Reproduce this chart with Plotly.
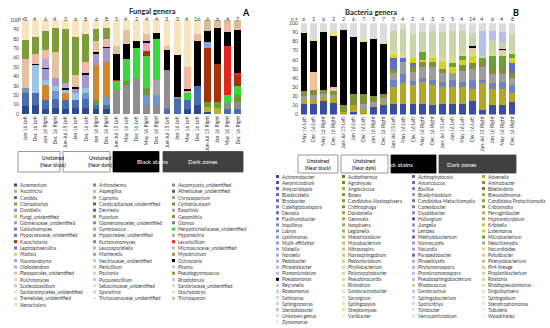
import plotly.graph_objects as go

W, H = 550, 328
FONT = "Lato"

# ---------------- categories ----------------
fungal_labels = ["Jun 16 Left", "Dec 16 Left", "Jun 16 Right", "Dec 16 Right",
                 "Jun-Jul 15 Left", "Jan 16 Left", "Dec 16 Left", "Jan 16 Right", "Dec 16 Right",
                 "Jun-Jul 15 Left", "May 16 Left", "Dec 16 Left", "May 16 Right", "Dec 16 Right",
                 "Jun-Jul 15 Left", "Jan 16 Left", "May 16 Left", "Dec 16 Left",
                 "Jun-Jul 15 Right", "Jan 16 Right", "May 16 Right", "Dec 16 Right"]
fungal_n = [3, 4, 6, 4, 2, 6, 8, 6, 8, 5, 4, 2, 4, 4, 3, 5, 4, 16, 6, 6, 4, 7]

bact_labels = ["May 16 Left", "Dec 16 Left", "May 16 Right", "Dec 16 Right",
               "Jun-Jul 15 Left", "Jan 16 Left", "Dec 16 Left", "Jan 16 Right", "Dec 16 Right",
               "Jun-Jul 15 Left", "May 16 Left", "Dec 16 Left", "May 16 Right", "Dec 16 Right",
               "Jun-Jul 15 Left", "Jan 16 Left", "May 16 Left", "Dec 16 Left",
               "Jun-Jul 15 Right", "Jan 16 Right", "May 16 Right", "Dec 16 Right"]
bact_n = [6, 1, 6, 2, 2, 6, 7, 5, 7, 5, 4, 2, 4, 3, 3, 5, 4, 14, 4, 6, 4, 8]

group_names = ["Unstained\n(Near black)", "Unstained\n(Near dark)", "Black stains", "Dark zones"]
group_sizes = [4, 5, 5, 8]

# ---------------- fungal relative abundances (%), bottom -> top ----------------
f_Acremonium = [8, 10, 5, 6, 5, 6, 6, 5, 5, 0, 0, 0, 0, 0, 0, 0, 5, 10, 2, 0, 0, 0]
f_Candida = [14, 12, 10, 10, 10, 9, 10, 5, 5, 0, 0, 0, 0, 0, 5, 16, 10, 20, 0, 0, 5, 5]
f_Ascomycota = [2, 0, 0, 0, 0, 0, 0, 0, 0, 26, 31, 38, 10, 10, 42, 2, 0, 0, 0, 0, 7, 8]
f_Davidiella = [4, 0, 0, 8, 0, 0, 6, 0, 8, 0, 0, 0, 10, 10, 0, 0, 0, 0, 0, 0, 0, 0]
f_Exophiala = [0, 0, 0, 0, 0, 0, 0, 0, 0, 0, 0, 0, 0, 16, 0, 0, 0, 0, 0, 0, 0, 0]
f_Capronia = [0, 0, 0, 0, 0, 0, 0, 0, 0, 0, 0, 0, 0, 0, 0, 0, 0, 0, 5, 6, 0, 0]
f_Cylindrocarpon = [0, 0, 0, 0, 0, 0, 0, 5, 0, 0, 4, 0, 8, 0, 0, 0, 0, 0, 6, 7, 0, 7]
f_Fusarium = [0, 0, 16, 0, 7, 0, 0, 37, 37, 0, 0, 0, 0, 0, 0, 0, 0, 0, 0, 0, 0, 0]
f_Aspergillus = [0, 30, 5, 6, 4, 7, 6, 0, 0, 0, 0, 0, 0, 0, 0, 0, 0, 0, 0, 0, 0, 0]
f_Glomeraceae = [0, 0, 12, 8, 0, 5, 14, 12, 15, 0, 0, 0, 0, 0, 0, 0, 0, 0, 0, 0, 0, 0]
f_Herpotrichiellaceae = [0, 0, 0, 0, 0, 0, 0, 0, 0, 9, 23, 32, 34, 44, 0, 0, 7, 0, 0, 0, 8, 10]
f_Kazachstania = [0, 0, 0, 0, 0, 0, 0, 0, 0, 0, 0, 0, 5, 0, 0, 0, 0, 0, 57, 40, 0, 10]
f_Lecanicillium = [0, 0, 0, 0, 0, 0, 0, 0, 0, 1.5, 0, 0, 0, 0, 0, 0, 0, 0, 0, 0, 52, 4]
f_Leucosporidiella = [0, 0, 0, 0, 0, 0, 0, 0, 0, 0, 0, 0, 9, 0, 0, 0, 3, 0, 0, 0, 0, 0]
f_Mortierella = [0, 0, 0, 0, 0, 0, 0, 0, 0, 0, 0, 0, 0, 0, 0, 0, 0, 0, 7, 0, 0, 0]
f_Ochroconis = [0, 1, 1, 0, 1.5, 2, 1.5, 1.5, 1.5, 27.5, 17, 8, 2, 6, 21, 45, 2, 48, 11, 39, 15, 45]
f_Oidiodendron = [0, 0, 10, 0, 6, 0, 0, 0, 0, 0, 0, 0, 0, 0, 0, 0, 0, 0, 0, 0, 0, 0]
f_Penicillium = [24, 0, 0, 28, 0, 13, 0, 12.5, 0, 8, 14, 0, 0, 0, 4, 0, 0, 0, 0, 0, 0, 0]
f_Pleosporales = [7, 11, 9, 0, 0, 0, 11.5, 0, 8.5, 0, 0, 0, 7, 0, 0, 0, 23, 7, 0, 0, 8, 3]
f_Pseudogymnoascus = [20, 18, 20, 25, 57, 40, 30, 12, 12, 0, 0, 0, 0, 0, 0, 0, 0, 0, 0, 0, 0, 0]
f_Trichosporon = [0, 0, 0, 0, 0, 0, 0, 0, 0, 0, 0, 0, 0, 0, 0, 0, 0, 0, 12, 8, 5, 8]
f_Xenochalara = [21, 18, 12, 9, 9.5, 18, 15, 10, 8, 28, 11, 22, 15, 14, 28, 37, 50, 15, 0, 0, 0, 0]

fungal_series = [
    ("Acremonium", f_Acremonium), ("Candida", f_Candida),
    ("Ascomycota_unidentified", f_Ascomycota), ("Davidiella", f_Davidiella),
    ("Exophiala", f_Exophiala), ("Capronia", f_Capronia),
    ("Cylindrocarpon", f_Cylindrocarpon), ("Fusarium", f_Fusarium),
    ("Aspergillus", f_Aspergillus), ("Glomeraceae_unidentified", f_Glomeraceae),
    ("Herpotrichiellaceae_unidentified", f_Herpotrichiellaceae),
    ("Kazachstania", f_Kazachstania), ("Lecanicillium", f_Lecanicillium),
    ("Leucosporidiella", f_Leucosporidiella), ("Mortierella", f_Mortierella),
    ("Ochroconis", f_Ochroconis), ("Oidiodendron", f_Oidiodendron),
    ("Penicillium", f_Penicillium), ("Pleosporales_unidentified", f_Pleosporales),
    ("Pseudogymnoascus", f_Pseudogymnoascus), ("Trichosporon", f_Trichosporon),
    ("Xenochalara", f_Xenochalara),
]

# ---------------- bacterial relative abundances (%), bottom -> top ----------------
b_Achromobacter = [12, 12, 15, 13, 0, 3, 0, 8, 10, 12, 12, 12, 12, 10, 11, 12, 12, 15, 5, 10, 10, 14]
b_Advenella = [4, 4, 3, 5, 3, 7, 5, 0, 3, 18, 22, 20, 24, 22, 19, 18, 18, 13, 30, 18, 18, 10]
b_Bacillus = [0, 0, 0, 0, 0, 0, 0, 0, 0, 8, 10, 5, 4, 6, 6, 8, 6, 10, 3, 6, 8, 8]
b_Bradyrhizobium = [4, 5, 5, 3, 0, 0, 7, 6, 5, 7, 14, 10, 12, 14, 10, 8, 12, 12, 14, 10, 8, 8]
b_Chitinophaga = [6, 6, 4, 5, 7, 13, 11, 6, 4, 5, 0, 6, 6, 6, 4, 0, 6, 6, 6, 8, 8, 6]
b_Devosia = [0, 0, 0, 0, 0, 0, 0, 0, 0, 12, 4, 4, 0, 0, 0, 0, 0, 0, 0, 0, 0, 10]
b_Luteimonas = [0, 0, 0, 0, 0, 0, 0, 0, 0, 3, 0, 5, 2, 4, 8, 6, 6, 8, 0, 0, 0, 6]
b_Microbacterium = [0, 0, 0, 0, 0, 0, 0, 0, 0, 0, 0, 0, 8, 0, 0, 4, 4, 0, 4, 12, 12, 4]
b_Nocardioides = [0, 0, 0, 0, 0, 0, 0, 0, 0, 5, 6, 0, 0, 4, 6, 8, 4, 6, 2, 4, 4, 4]
b_Patulibacter = [0, 20, 0, 4, 0, 0, 0, 0, 0, 0, 0, 0, 0, 0, 0, 0, 0, 3, 0, 0, 3, 0]
b_Pseudomonas = [63, 34, 63, 56, 83, 62, 57, 63, 55, 0, 0, 0, 0, 0, 0, 0, 0, 2, 0, 0, 1, 0]
b_Rhodococcus = [0, 0, 0, 0, 0, 0, 0, 0, 0, 22, 26, 26, 22, 26, 26, 28, 24, 13, 0, 14, 8, 18]
b_Steroidobacter = [0, 0, 0, 0, 0, 0, 0, 0, 0, 0, 0, 0, 0, 0, 0, 0, 0, 0, 28, 10, 10, 0]
b_Streptomyces = [1, 1, 2, 5, 0, 0, 2, 0, 3, 0, 0, 0, 0, 0, 0, 0, 0, 0, 0, 0, 0, 0]
b_Unknown = [10, 18, 8, 9, 7, 15, 18, 17, 20, 8, 6, 12, 10, 8, 10, 8, 8, 12, 8, 8, 10, 12]

bact_series = [
    ("Achromobacter", b_Achromobacter), ("Advenella", b_Advenella),
    ("Bacillus", b_Bacillus), ("Bradyrhizobium", b_Bradyrhizobium),
    ("Chitinophaga", b_Chitinophaga), ("Devosia", b_Devosia),
    ("Luteimonas", b_Luteimonas), ("Microbacterium", b_Microbacterium),
    ("Nocardioides", b_Nocardioides), ("Patulibacter", b_Patulibacter),
    ("Pseudomonas", b_Pseudomonas), ("Rhodococcus", b_Rhodococcus),
    ("Steroidobacter", b_Steroidobacter), ("Streptomyces", b_Streptomyces),
    ("Unknown genus", b_Unknown),
]

# ---------------- legend columns (name, colour) ----------------
fungal_legend = [
    [("Acremonium", "#2F4A8C"), ("Ascotricha", "#A4C24A"), ("Candida", "#4A6CB3"),
     ("Clonostachys", "#8AA63A"), ("Davidiella", "#7394CF"), ("Fungi_unidentified", "#B3CB5E"),
     ("Glomeraceae_unidentified", "#A596D0"), ("Golovinomyces", "#8470B8"),
     ("Hypocreaceae_unidentified", "#6B7FC4"), ("Kazachstania", "#A33310"),
     ("Leptosphaerulina", "#7E6FC0"), ("Mollisia", "#C5D98A"), ("Naumovozyma", "#9FA8DC"),
     ("Oidiodendron", "#B7A9D6"), ("Pleosporales_unidentified", "#F3B8A5"),
     ("Pulchromyces", "#D5E2A8"), ("Scolecobasidium", "#C9C6E3"),
     ("Sordariomycetes_unidentified", "#E4EBC4"), ("Tremellales_unidentified", "#D9D5EE"),
     ("Xenochalara", "#F6E5BF")],
    [("Arthroderma", "#8C8A3E"), ("Aspergillus", "#9DC3E6"), ("Capronia", "#B5B134"),
     ("Cordycipitaceae_unidentified", "#5B5FA8"), ("Devriesia", "#6D5A9E"),
     ("Fusarium", "#D4862E"), ("Glomeromycetes_unidentified", "#8B85C4"),
     ("Gymnoascus", "#A0A0C8"), ("Hypocreales_unidentified", "#9AAE45"),
     ("Kurtzmanomyces", "#7F7FBF"), ("Leucosporidiella", "#F2A0B5"),
     ("Mortierella", "#8EA0D8"), ("Nectriaceae_unidentified", "#C8CF8A"),
     ("Penicillium", "#E3C39C"), ("Pochonia", "#D8DDA8"), ("Purpureocillium", "#C8C3E0"),
     ("Sebacinaceae_unidentified", "#E1E5BE"), ("Sporothrix", "#D5D3EC"),
     ("Trichocomaceae_unidentified", "#ECEBD8")],
    [("Ascomycota_unidentified", "#8E8E8E"), ("Atheliaceae_unidentified", "#5E6B2E"),
     ("Chrysosporium", "#9A9A9A"), ("Cylindrocarpon", "#6E9A2F"), ("Exophiala", "#A6A6A6"),
     ("Geosmithia", "#7C9A3A"), ("Glomus", "#7F7F7F"),
     ("Herpotrichiellaceae_unidentified", "#39D83B"), ("Hyponectria", "#B0B0B0"),
     ("Lecanicillium", "#E5241B"), ("Microascaceae_unidentified", "#BFBFBF"),
     ("Myxotrichum", "#84A040"), ("Ochroconis", "#000000"), ("Phoma", "#C8C8C8"),
     ("Pseudogymnoascus", "#7E9C3C"), ("Rhodotorula", "#D0D0D0"),
     ("Sordariaceae_unidentified", "#D9D9D9"), ("Stachybotrys", "#E0E0E0"),
     ("Trichosporon", "#D7BE9B")],
]

bact_legend = [
    [("Achromobacter", "#3A4DA0"), ("Aeromicrobium", "#4455A8"), ("Amycolatopsis", "#4F5FB0"),
     ("Blastocatella", "#5A6AB8"), ("Bryobacter", "#6072BC"), ("Catelliglobosispora", "#6A7CC0"),
     ("Devosia", "#5D6FC0"), ("Flavihumibacter", "#7080C4"), ("Inquilinus", "#7888C8"),
     ("Labrys", "#8090CC"), ("Lysinimonas", "#8898D0"), ("Multi-affiliation", "#90A0D4"),
     ("Niabella", "#98A6D8"), ("Nordella", "#A0AEDC"), ("Pedobacter", "#A8B4DE"),
     ("Phreatobacter", "#B0BCE2"), ("Planomicrobium", "#B8C2E4"), ("Pseudomonas", "#000000"),
     ("Reyranella", "#C0C8E8"), ("Roseomonas", "#C8D0EA"), ("Solimonas", "#CCD3EC"),
     ("Sphingomonas", "#D2D8EE"), ("Steroidobacter", "#B5C0EA"), ("Unknown genus", "#DCDCDC"),
     ("Zymomonas", "#E6E9F4")],
    [("Acidothermus", "#6E7A2A"), ("Agromyces", "#7A862F"), ("Angiococcus", "#A8AE3A"),
     ("Bosea", "#848F36"), ("Candidatus Alysiosphaera", "#8C9A3C"), ("Chitinophaga", "#7F8F3A"),
     ("Dokdonella", "#95A245"), ("Gemmata", "#9CA84E"), ("Isosphaera", "#A3AE58"),
     ("Legionella", "#AAB462"), ("Mesorhizobium", "#B1BA6C"), ("Mycobacterium", "#B8C076"),
     ("Nitrosospira", "#BEC680"), ("Novosphingobium", "#C4CB8A"), ("Pedomicrobium", "#C9D094"),
     ("Phyllobacterium", "#CED59E"), ("Polymorphobacter", "#D3D9A8"), ("Pseudonocardia", "#D7DDB2"),
     ("Rhizobium", "#DBE0BA"), ("Sandaracinobacter", "#DFE4C2"), ("Sorangium", "#E3E7CA"),
     ("Sphingopyxis", "#E7EBD2"), ("Streptomyces", "#EEE27A"), ("Variibacter", "#EEF0DE")],
    [("Actinophytocola", "#5F6A8A"), ("Amaricoccus", "#66729A"), ("Bacillus", "#7082C0"),
     ("Bradyrhizobium", "#9E9E9E"), ("Candidatus Metachlamydia", "#6F7BA8"),
     ("Conexibacter", "#7884AE"), ("Dyadobacter", "#808CB4"), ("Haliangium", "#4F5EA8"),
     ("Jiangella", "#8894BA"), ("Lentzea", "#909BBF"), ("Methylobacterium", "#5867AE"),
     ("Nannocystis", "#98A2C4"), ("Nocardia", "#A0A9C9"), ("Parapedobacter", "#6271B2"),
     ("Phaselicystis", "#A8B0CE"), ("Phytomonospora", "#B0B7D3"), ("Promicromonospora", "#B8BED8"),
     ("Pseudosphingobacterium", "#C0C5DC"), ("Rhodococcus", "#C9D4A8"),
     ("Sandaracinus", "#C8CCE0"), ("Sphingobacterium", "#CFD3E4"), ("Sporichthya", "#D6D9E8"),
     ("Tahibacter", "#DDE0EC"), ("Verrucomicrobium", "#E4E6F0")],
    [("Advenella", "#B3A823"), ("Aminobacter", "#8C8F2E"), ("Bdellovibrio", "#6E7C2E"),
     ("Brevundimonas", "#A2A83A"), ("Candidatus Protochlamydia", "#8FA040"),
     ("Criblamydia", "#7E9A3A"), ("Ferruginibacter", "#B5B54A"), ("Hyphomicrobium", "#A6B050"),
     ("Kribbella", "#BDC25A"), ("Luteimonas", "#D9D21A"), ("Microbacterium", "#66A43A"),
     ("Neochlamydia", "#A3B85E"), ("Nocardioides", "#D6DC8C"), ("Patulibacter", "#F2C39B"),
     ("Phenylobacterium", "#B7CC78"), ("Pir4 lineage", "#C2D28A"),
     ("Propionibacterium", "#CBD89A"), ("Ralstonia", "#D3DDA8"), ("Rhodopseudomonas", "#DAE2B6"),
     ("Singulisphaera", "#E0E6C2"), ("Sphingobium", "#E5EACC"), ("Stenotrophomonas", "#EAEED6"),
     ("Taibaiella", "#EEF1DE"), ("Woodsholea", "#F2F4E6")],
]


def px(x):
    return x / W


def py(y):
    return 1 - y / H


fcolors = {n: c for col in fungal_legend for n, c in col}
bcolors = {n: c for col in bact_legend for n, c in col}

fig = go.Figure()
xs = list(range(22))
for name, vals in fungal_series:
    fig.add_trace(go.Bar(x=xs, y=vals, name=name, marker_color=fcolors[name],
                         marker_line_width=0, xaxis="x", yaxis="y", showlegend=False))
for name, vals in bact_series:
    fig.add_trace(go.Bar(x=xs, y=vals, name=name, marker_color=bcolors[name],
                         marker_line_width=0, xaxis="x2", yaxis="y2", showlegend=False))

tickfont = dict(family=FONT, size=5, color="#404040")
common_x = dict(tickmode="array", tickvals=xs, tickangle=-90, tickfont=tickfont,
                range=[-0.5, 21.5], showgrid=False, zeroline=False, showline=False, ticks="",
                automargin=False)
common_y = dict(range=[0, 100], tickmode="array", tickvals=list(range(0, 101, 10)),
                ticksuffix="%", tickfont=tickfont, showgrid=False, zeroline=False,
                showline=False, ticks="", automargin=False)

fig.update_layout(
    template="none",
    width=W, height=H, margin=dict(l=0, r=0, t=0, b=0, pad=0, autoexpand=False),
    paper_bgcolor="white", plot_bgcolor="white",
    barmode="stack", bargap=0.32, showlegend=False,
    xaxis=dict(domain=[px(20), px(243)], anchor="y", ticktext=fungal_labels, **common_x),
    yaxis=dict(domain=[py(114), py(20)], anchor="x", **common_y),
    xaxis2=dict(domain=[px(299), px(517)], anchor="y2", ticktext=bact_labels, **common_x),
    yaxis2=dict(domain=[py(114.5), py(23.3)], anchor="x2", **common_y),
)

ann = []
shapes = []
txt = "#404040"

# titles
ann.append(dict(x=px(128), y=py(6.5), xref="paper", yref="paper", text="<b>Fungal genera</b>",
                showarrow=False, borderpad=0, font=dict(family=FONT, size=7.5, color="#262626")))
ann.append(dict(x=px(246), y=py(6.5), xref="paper", yref="paper", text="<b>A</b>",
                showarrow=False, borderpad=0, font=dict(family=FONT, size=9, color="black")))
ann.append(dict(x=px(398), y=py(7), xref="paper", yref="paper", text="<b>Bacteria genera</b>",
                showarrow=False, borderpad=0, font=dict(family=FONT, size=7.5, color="#262626")))
ann.append(dict(x=px(520), y=py(6.5), xref="paper", yref="paper", text="<b>B</b>",
                showarrow=False, borderpad=0, font=dict(family=FONT, size=9, color="black")))

# n labels
for xr, nvals, npos in (("x", fungal_n, 17), ("x2", bact_n, 294)):
    ann.append(dict(x=px(npos), y=py(15), xref="paper", yref="paper", text="n =",
                    showarrow=False, borderpad=0, font=dict(family=FONT, size=4.8, color=txt)))
    for i, n in enumerate(nvals):
        ann.append(dict(x=i, y=py(15.5), xref=xr, yref="paper", text=str(n),
                        showarrow=False, borderpad=0, font=dict(family=FONT, size=5.5, color=txt)))

# group boxes
def boxes(xs_edges, y0, y1):
    styles = [("white", "#7F7F7F", "black"), ("white", "#7F7F7F", "black"),
              ("black", "black", "white"), ("#404040", "#404040", "white")]
    for (a, b), name, (fill, line, tc) in zip(xs_edges, group_names, styles):
        shapes.append(dict(type="rect", xref="paper", yref="paper", x0=px(a), x1=px(b),
                           y0=py(y1), y1=py(y0), fillcolor=fill, layer="below",
                           line=dict(color=line, width=0.8)))
        size = 5 if "\n" in name else 6
        ann.append(dict(x=px((a + b) / 2), y=py((y0 + y1) / 2), xref="paper", yref="paper",
                        text=name.replace("\n", "<br>"), showarrow=False, borderpad=0,
                        font=dict(family=FONT, size=size, color=tc)))

boxes([(18, 60), (63, 110), (113, 159), (163, 243)], 151.5, 172)
boxes([(298, 338), (341, 388), (391, 436), (439, 516)], 155, 173)

# legends
def legend(columns, xcols, y0, dy):
    for col, xc in zip(columns, xcols):
        for i, (name, color) in enumerate(col):
            yc = y0 + i * dy
            shapes.append(dict(type="rect", xref="paper", yref="paper",
                               x0=px(xc), x1=px(xc + 3), y0=py(yc + 1.5), y1=py(yc - 1.5),
                               fillcolor=color, line=dict(width=0)))
            ann.append(dict(x=px(xc + 4.5), y=py(yc), xref="paper", yref="paper", text=name,
                            xanchor="left", yanchor="middle", showarrow=False, borderpad=0,
                            font=dict(family=FONT, size=4.8, color=txt)))

legend(fungal_legend, [14, 93, 172], 185, 6.3)
legend(bact_legend, [276, 342, 412, 482], 176.5, 6.05)

fig.update_layout(annotations=ann, shapes=shapes)
fig.write_html("out.html", config={"displayModeBar": False, "staticPlot": True},
               post_script="document.body.style.margin='0';")
